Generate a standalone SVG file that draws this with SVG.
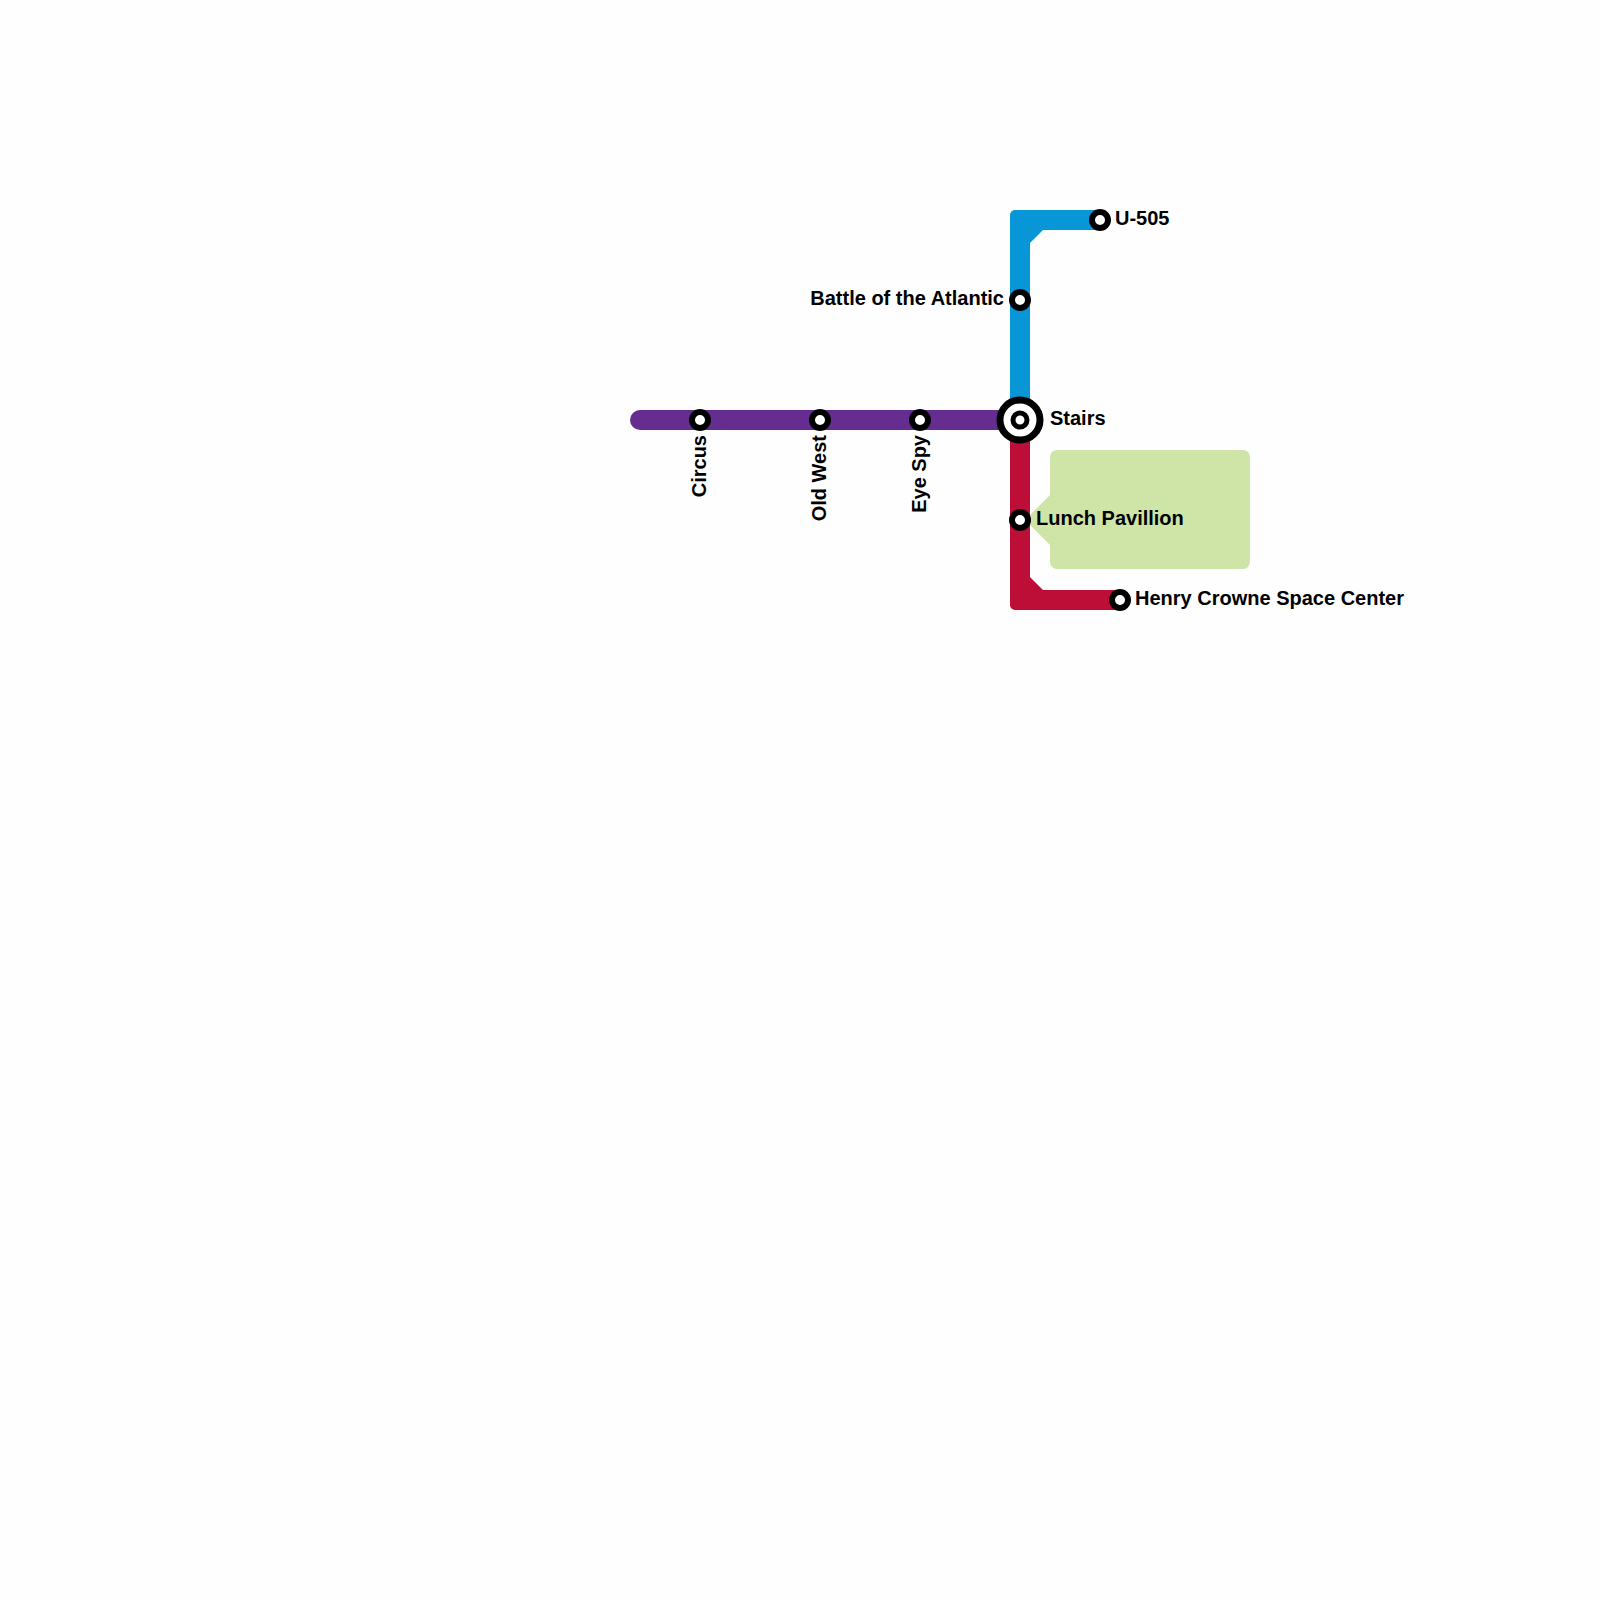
<svg xmlns="http://www.w3.org/2000/svg" width="1600" height="1600" viewBox="0 0 1600 1600">
<style>
.lbl{font-family:"Liberation Sans",Arial,Helvetica,sans-serif;font-weight:bold;font-size:20px;fill:#000}
.st{fill:#fff;stroke:#000;stroke-width:6}
</style>
<rect width="1600" height="1600" fill="#fefefe"/>
<g id="callout">
<path d="M1057,450 H1243 A7,7 0 0 1 1250,457 V562 A7,7 0 0 1 1243,569 H1057 A7,7 0 0 1 1050,562 V545 L1025,520 L1050,495 V457 A7,7 0 0 1 1057,450 Z" fill="#cfe4a7"/>
</g>
<g id="connectors">
<path d="M640,420 H1020" stroke="#662d91" stroke-width="20" stroke-linecap="round" fill="none"/>
<path d="M1010,420 V215 A5,5 0 0 1 1015,210 H1100 V230 H1043 L1030,243 V420 Z" fill="#0896d6"/>
<path d="M1010,420 V605 A5,5 0 0 0 1015,610 H1120 V590 H1043 L1030,577 V420 Z" fill="#bc0e37"/>
</g>
<g id="station-circus"><circle class="st" cx="700" cy="420" r="8"/><text class="lbl" text-anchor="end" transform="translate(706,435) rotate(-90)">Circus</text></g>
<g id="station-oldwest"><circle class="st" cx="820" cy="420" r="8"/><text class="lbl" text-anchor="end" transform="translate(826,435) rotate(-90)">Old West</text></g>
<g id="station-eyespy"><circle class="st" cx="920" cy="420" r="8"/><text class="lbl" text-anchor="end" transform="translate(926,435) rotate(-90)">Eye Spy</text></g>
<g id="station-battle"><circle class="st" cx="1020" cy="300" r="8"/><text class="lbl" x="1004" y="305" text-anchor="end">Battle of the Atlantic</text></g>
<g id="station-u505"><circle class="st" cx="1100" cy="220" r="8"/><text class="lbl" x="1115" y="225">U-505</text></g>
<g id="station-stairs"><circle fill="#fff" stroke="#000" stroke-width="7" cx="1020" cy="420" r="20"/><circle fill="#fff" stroke="#000" stroke-width="5" cx="1020" cy="420" r="7"/><text class="lbl" x="1050" y="425">Stairs</text></g>
<g id="station-lunch"><circle class="st" cx="1020" cy="520" r="8"/><text class="lbl" x="1036" y="525">Lunch Pavillion</text></g>
<g id="station-henry"><circle class="st" cx="1120" cy="600" r="8"/><text class="lbl" x="1135" y="605">Henry Crowne Space Center</text></g>
</svg>
